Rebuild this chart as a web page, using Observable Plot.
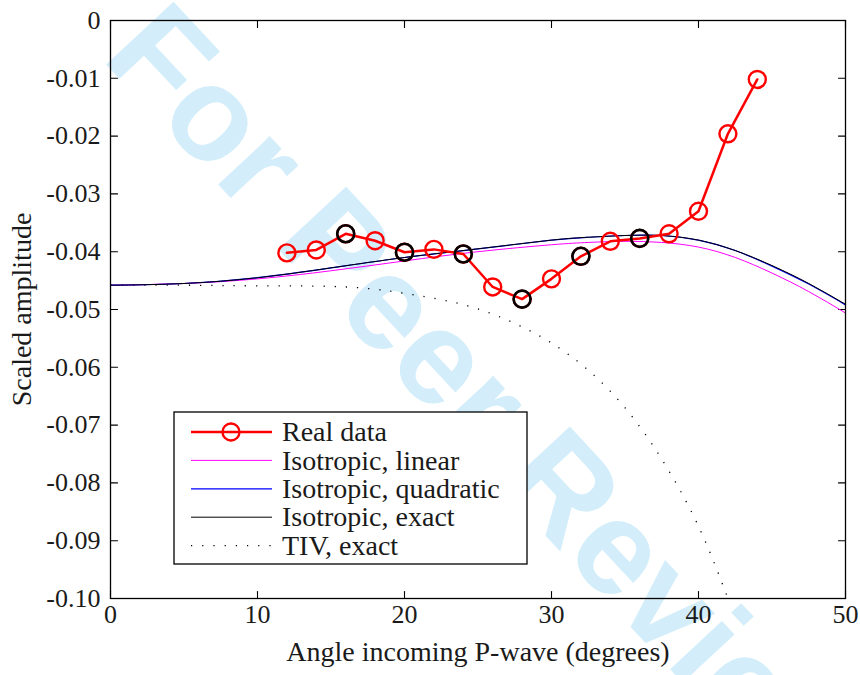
<!DOCTYPE html>
<html>
<head>
<meta charset="utf-8">
<script src="https://cdn.jsdelivr.net/npm/d3@7"></script>
<script src="https://cdn.jsdelivr.net/npm/@observablehq/plot@0.6"></script>
<style>
  html, body { margin: 0; padding: 0; background: #fff; }
  #chart { width: 860px; height: 675px; }
  #chart svg text { font-family: "Liberation Serif", "DejaVu Serif", serif; }
  #chart svg text.wm { font-family: "Liberation Sans", "DejaVu Sans", sans-serif; }
</style>
</head>
<body>
<div id="chart"></div>
<script>
// Axis ticks and labels
const xTicks = [0, 10, 20, 30, 40, 50];
const xTickLabels = ["0", "10", "20", "30", "40", "50"];
const yTicks = [0, -0.01, -0.02, -0.03, -0.04, -0.05, -0.06, -0.07, -0.08, -0.09, -0.10];
const yTickLabels = ["0", "-0.01", "-0.02", "-0.03", "-0.04", "-0.05", "-0.06", "-0.07", "-0.08", "-0.09", "-0.10"];
const xLabel = "Angle incoming P-wave (degrees)";
const yLabel = "Scaled amplitude";

// Measured amplitudes (real data)
const dataAngles = [12, 14, 16, 18, 20, 22, 24, 26, 28, 30, 32, 34, 36, 38, 40, 42, 44];
const realData = [-0.0402, -0.0397, -0.0369, -0.0381, -0.0401, -0.0396, -0.0404, -0.0461, -0.0482,
                  -0.0447, -0.0408, -0.0382, -0.0377, -0.0369, -0.0330, -0.0196, -0.0102];
// Angles whose samples are highlighted with black rings
const markedAngles = [16, 20, 24, 28, 32, 36];

// Modelled curves
const curveAngles = [0, 5, 10, 15, 20, 25, 30, 32.5, 35, 37.5, 40, 42.5, 45, 47.5, 50];
const isoLinear    = [-0.0458, -0.0455, -0.0447, -0.0433, -0.0416, -0.0400, -0.0388, -0.0384, -0.0382, -0.0384, -0.0392, -0.0410, -0.0437, -0.0469, -0.0506];
const isoQuadratic = [-0.0458, -0.0455, -0.0445, -0.0428, -0.0410, -0.0395, -0.0380, -0.0375, -0.0372, -0.0372, -0.0380, -0.0398, -0.0425, -0.0456, -0.0492];
const isoExact     = [-0.0458, -0.0455, -0.0445, -0.0428, -0.0410, -0.0395, -0.0380, -0.0375, -0.0372, -0.0372, -0.0380, -0.0398, -0.0424, -0.0455, -0.0491];
const tivAngles = [0, 5, 10, 15, 18, 20, 22.5, 25, 27.5, 30, 32.5, 35, 37.5, 40, 42];
const tivExact  = [-0.0458, -0.0458, -0.0459, -0.0460, -0.0465, -0.0472, -0.0483, -0.0499, -0.0524, -0.0558, -0.0605, -0.0670, -0.0759, -0.0875, -0.1000];

const legendItems = ["Real data", "Isotropic, linear", "Isotropic, quadratic", "Isotropic, exact", "TIV, exact"];

const real = dataAngles.map((a, i) => ({angle: a, value: realData[i]}));
const marked = real.filter(d => markedAngles.includes(d.angle));
const series = (ys) => curveAngles.map((a, i) => ({angle: a, value: ys[i]}));
const tiv = tivAngles.map((a, i) => ({angle: a, value: tivExact[i]}));

const tickShape = {draw(context, l) { context.moveTo(0, 0); context.lineTo(0, -l); }};
const tickOpts = {length: 7, anchor: "start", shape: tickShape, stroke: "black", strokeWidth: 1.1};

const chart = Plot.plot({
  width: 860,
  height: 675,
  marginLeft: 110,
  marginRight: 15,
  marginTop: 20,
  marginBottom: 77,
  style: {fontSize: "26px", color: "#1a1a1a", background: "transparent", overflow: "visible"},
  x: {domain: [0, 50]},
  y: {domain: [-0.1, 0]},
  marks: [
    Plot.axisX(xTicks, {tickSize: 0, tickPadding: 6, tickFormat: (d, i) => xTickLabels[i], label: null, fontSize: 26}),
    Plot.axisY(yTicks, {tickSize: 0, tickPadding: 10, tickFormat: (d, i) => yTickLabels[i], label: null, fontSize: 26}),
    // inward ticks on all four sides
    Plot.vector(xTicks, {x: d => d, frameAnchor: "bottom", rotate: 0, ...tickOpts}),
    Plot.vector(xTicks, {x: d => d, frameAnchor: "top", rotate: 180, ...tickOpts}),
    Plot.vector(yTicks, {y: d => d, frameAnchor: "left", rotate: 90, ...tickOpts}),
    Plot.vector(yTicks, {y: d => d, frameAnchor: "right", rotate: -90, ...tickOpts}),
    Plot.line(tiv, {x: "angle", y: "value", curve: "natural", stroke: "black", strokeWidth: 1.3, strokeDasharray: "1.2 10", strokeLinecap: "butt"}),
    Plot.line(series(isoLinear), {x: "angle", y: "value", curve: "natural", stroke: "#ff00ff", strokeWidth: 1}),
    Plot.line(series(isoQuadratic), {x: "angle", y: "value", curve: "natural", stroke: "#0000ff", strokeWidth: 1.2}),
    Plot.line(series(isoExact), {x: "angle", y: "value", curve: "natural", stroke: "black", strokeWidth: 1}),
    Plot.line(real, {x: "angle", y: "value", stroke: "#ff0000", strokeWidth: 2.5}),
    Plot.dot(real, {x: "angle", y: "value", r: 8.5, stroke: "#ff0000", strokeWidth: 2.4, fill: "none"}),
    Plot.dot(marked, {x: "angle", y: "value", r: 8.5, stroke: "black", strokeWidth: 2.6, fill: "none"}),
    Plot.frame({stroke: "black", strokeWidth: 1.3}),
    Plot.text([xLabel], {frameAnchor: "bottom", dy: 62, textAnchor: "middle", lineAnchor: "bottom", fontSize: 28, fill: "#1a1a1a"}),
    Plot.text([yLabel], {frameAnchor: "left", dx: -88, rotate: -90, textAnchor: "middle", lineAnchor: "middle", fontSize: 28, fill: "#1a1a1a"})
  ]
});

const svg = d3.select(chart);

// Reviewer watermark behind everything
svg.insert("g", ":first-child")
  .append("text")
  .attr("class", "wm")
  .attr("transform", "translate(100,58) rotate(47)")
  .attr("text-anchor", "start")
  .attr("font-weight", "bold")
  .attr("font-size", 134)
  .attr("fill", "#d3eefa")
  .text("For Peer Review");

// Legend box
const lg = svg.append("g").attr("font-size", 28).attr("text-anchor", "start");
lg.append("rect").attr("x", 174).attr("y", 412).attr("width", 353).attr("height", 152)
  .attr("fill", "white").attr("stroke", "black").attr("stroke-width", 1.3);
const rowY = i => 432 + i * 28.4;
const styles = [
  {stroke: "#ff0000", width: 2.5, dash: null},
  {stroke: "#ff00ff", width: 1, dash: null},
  {stroke: "#0000ff", width: 1.2, dash: null},
  {stroke: "black", width: 1, dash: null},
  {stroke: "black", width: 1.3, dash: "1.2 10"}
];
legendItems.forEach((label, i) => {
  const s = styles[i];
  const y = rowY(i);
  const ln = lg.append("line").attr("x1", 191).attr("x2", 272).attr("y1", y).attr("y2", y)
    .attr("stroke", s.stroke).attr("stroke-width", s.width);
  if (s.dash) ln.attr("stroke-dasharray", s.dash);
  if (i === 0) lg.append("circle").attr("cx", 231).attr("cy", y).attr("r", 8.5)
    .attr("fill", "none").attr("stroke", "#ff0000").attr("stroke-width", 2.4);
  lg.append("text").attr("x", 282).attr("y", y).attr("dy", "0.33em").attr("fill", "#1a1a1a").text(label);
});

document.getElementById("chart").appendChild(chart);
</script>
</body>
</html>
